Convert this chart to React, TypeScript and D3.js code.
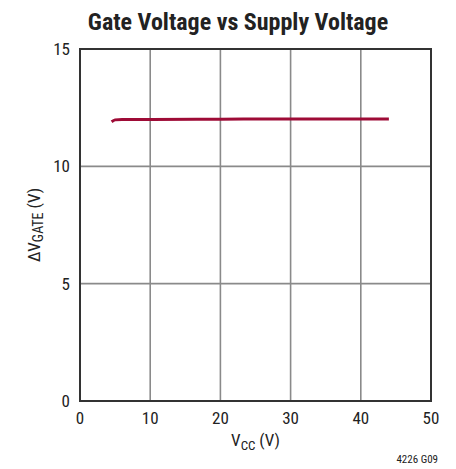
import React from "react";
import * as d3 from "d3";

const vcc = [4.5, 5, 6, 10, 20, 30, 40, 44];
const vgate = [11.9, 11.98, 12.0, 12.0, 12.01, 12.02, 12.02, 12.02];
const xTicks = [0, 10, 20, 30, 40, 50];
const yTicks = [0, 5, 10, 15];

const W = 456;
const H = 469;
const m = { top: 49, right: 25, bottom: 68, left: 80 };
const font = "'Liberation Sans Narrow', 'Arial Narrow', 'Roboto Condensed', sans-serif";

export default function App() {
  const ref = React.useRef<SVGSVGElement>(null);

  React.useEffect(() => {
    const svg = d3.select(ref.current);
    svg.selectAll("*").remove();

    const x = d3.scaleLinear().domain([0, 50]).range([m.left, W - m.right]);
    const y = d3.scaleLinear().domain([0, 15]).range([H - m.bottom, m.top]);

    // grid
    svg
      .append("g")
      .selectAll("line")
      .data(xTicks.slice(1, -1))
      .join("line")
      .attr("x1", (d) => x(d))
      .attr("x2", (d) => x(d))
      .attr("y1", y(0))
      .attr("y2", y(15))
      .attr("stroke", "#8a8a8a")
      .attr("stroke-width", 1.6);
    svg
      .append("g")
      .selectAll("line")
      .data(yTicks.slice(1, -1))
      .join("line")
      .attr("x1", x(0))
      .attr("x2", x(50))
      .attr("y1", (d) => y(d))
      .attr("y2", (d) => y(d))
      .attr("stroke", "#8a8a8a")
      .attr("stroke-width", 1.6);

    // frame
    svg
      .append("rect")
      .attr("x", x(0))
      .attr("y", y(15))
      .attr("width", x(50) - x(0))
      .attr("height", y(0) - y(15))
      .attr("fill", "none")
      .attr("stroke", "#333")
      .attr("stroke-width", 2);

    // data line
    const line = d3
      .line<number>()
      .x((d, i) => x(vcc[i]))
      .y((d) => y(d))
      .curve(d3.curveMonotoneX);
    svg
      .append("path")
      .attr("d", line(vgate))
      .attr("fill", "none")
      .attr("stroke", "#9e0b36")
      .attr("stroke-width", 3);

    // tick labels
    svg
      .append("g")
      .selectAll("text")
      .data(xTicks)
      .join("text")
      .attr("x", (d) => x(d))
      .attr("y", y(0) + 23)
      .attr("text-anchor", "middle")
      .attr("font-family", font)
      .attr("font-size", 17)
      .attr("fill", "#222")
      .text((d) => d);
    svg
      .append("g")
      .selectAll("text")
      .data(yTicks)
      .join("text")
      .attr("x", x(0) - 10)
      .attr("y", (d) => y(d) + 6)
      .attr("text-anchor", "end")
      .attr("font-family", font)
      .attr("font-size", 17)
      .attr("fill", "#222")
      .text((d) => d);

    // title
    svg
      .append("text")
      .attr("x", 238)
      .attr("y", 30)
      .attr("text-anchor", "middle")
      .attr("font-family", font)
      .attr("font-weight", "bold")
      .attr("font-size", 24)
      .attr("fill", "#222")
      .text("Gate Voltage vs Supply Voltage");

    // x label
    const xl = svg
      .append("text")
      .attr("x", x(25))
      .attr("y", 446)
      .attr("text-anchor", "middle")
      .attr("font-family", font)
      .attr("font-size", 17)
      .attr("fill", "#222");
    xl.append("tspan").text("V");
    xl.append("tspan").attr("font-size", 13).attr("dy", 4).text("CC");
    xl.append("tspan").attr("dy", -4).text(" (V)");

    // y label
    const yl = svg
      .append("text")
      .attr("transform", `translate(40,${y(7.5)}) rotate(-90)`)
      .attr("text-anchor", "middle")
      .attr("font-family", font)
      .attr("font-size", 17)
      .attr("fill", "#222");
    yl.append("tspan").text("ΔV");
    yl.append("tspan").attr("font-size", 14).attr("dy", 3).text("GATE");
    yl.append("tspan").attr("dy", -3).text(" (V)");

    svg
      .append("text")
      .attr("x", 438)
      .attr("y", 463)
      .attr("text-anchor", "end")
      .attr("font-family", font)
      .attr("font-size", 11)
      .attr("fill", "#222")
      .text("4226 G09");
  }, []);

  return (
    <svg
      ref={ref}
      width={W}
      height={H}
      style={{ position: "absolute", left: 0, top: 0, background: "#fff" }}
    />
  );
}
